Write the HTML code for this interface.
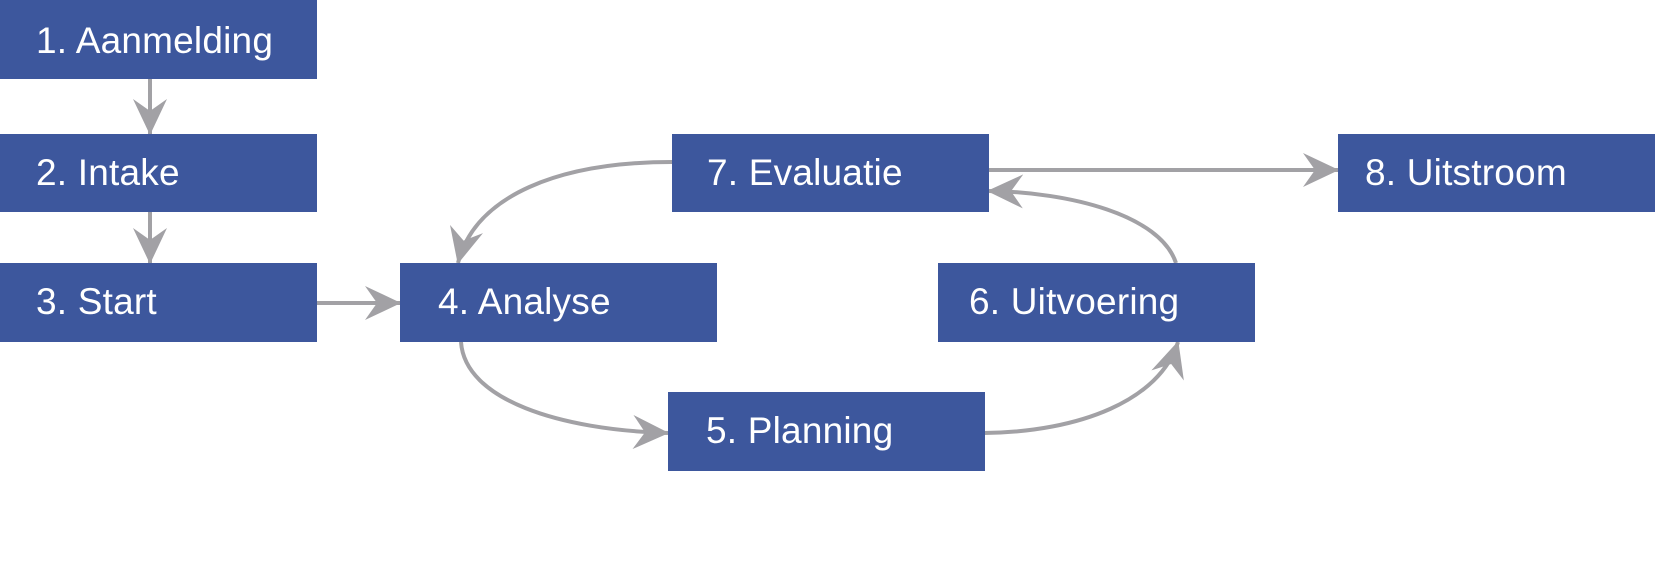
<!DOCTYPE html>
<html><head><meta charset="utf-8"><style>
html,body{margin:0;padding:0;background:#fff;}
body{width:1655px;height:580px;position:relative;overflow:hidden;font-family:"Liberation Sans","DejaVu Sans",sans-serif;}
.b{position:absolute;background:#3d579d;color:#fff;font-size:37px;line-height:78px;height:78px;width:317px;box-sizing:border-box;padding-left:36px;letter-spacing:0.2px;}
svg{position:absolute;left:0;top:0;}
</style></head><body>
<svg width="1655" height="580" viewBox="0 0 1655 580">
<defs>
<marker id="a" viewBox="0 0 36 34" refX="35" refY="17" markerWidth="36" markerHeight="34" markerUnits="userSpaceOnUse" orient="auto">
<path d="M0,0 L36,17 L0,34 L12,17 Z" fill="#a2a1a5"/>
</marker>
</defs>
<g stroke="#a2a1a5" stroke-width="4" fill="none" marker-end="url(#a)">
<line x1="150" y1="79" x2="150" y2="134"/>
<line x1="150" y1="212" x2="150" y2="263"/>
<line x1="317" y1="303" x2="400" y2="303"/>
<line x1="988" y1="170" x2="1338" y2="170"/>
<path d="M672,162 C560,162 475,195 458,263"/>
<path d="M461,342 C465,400 560,430 668,433"/>
<path d="M984,433 C1080,432 1160,400 1178,342"/>
<path d="M1176,263 C1160,215 1070,192 988,191"/>
</g>
</svg>
<div class="b" style="left:0;top:0;height:79px;line-height:82px;">1. Aanmelding</div>
<div class="b" style="left:0;top:134px;">2. Intake</div>
<div class="b" style="left:0;top:263px;height:79px;">3. Start</div>
<div class="b" style="left:400px;top:263px;height:79px;padding-left:38px;">4. Analyse</div>
<div class="b" style="left:668px;top:392px;height:79px;padding-left:38px;">5. Planning</div>
<div class="b" style="left:938px;top:263px;height:79px;padding-left:31px;">6. Uitvoering</div>
<div class="b" style="left:672px;top:134px;padding-left:35px;">7. Evaluatie</div>
<div class="b" style="left:1338px;top:134px;padding-left:27px;">8. Uitstroom</div>
</body></html>
